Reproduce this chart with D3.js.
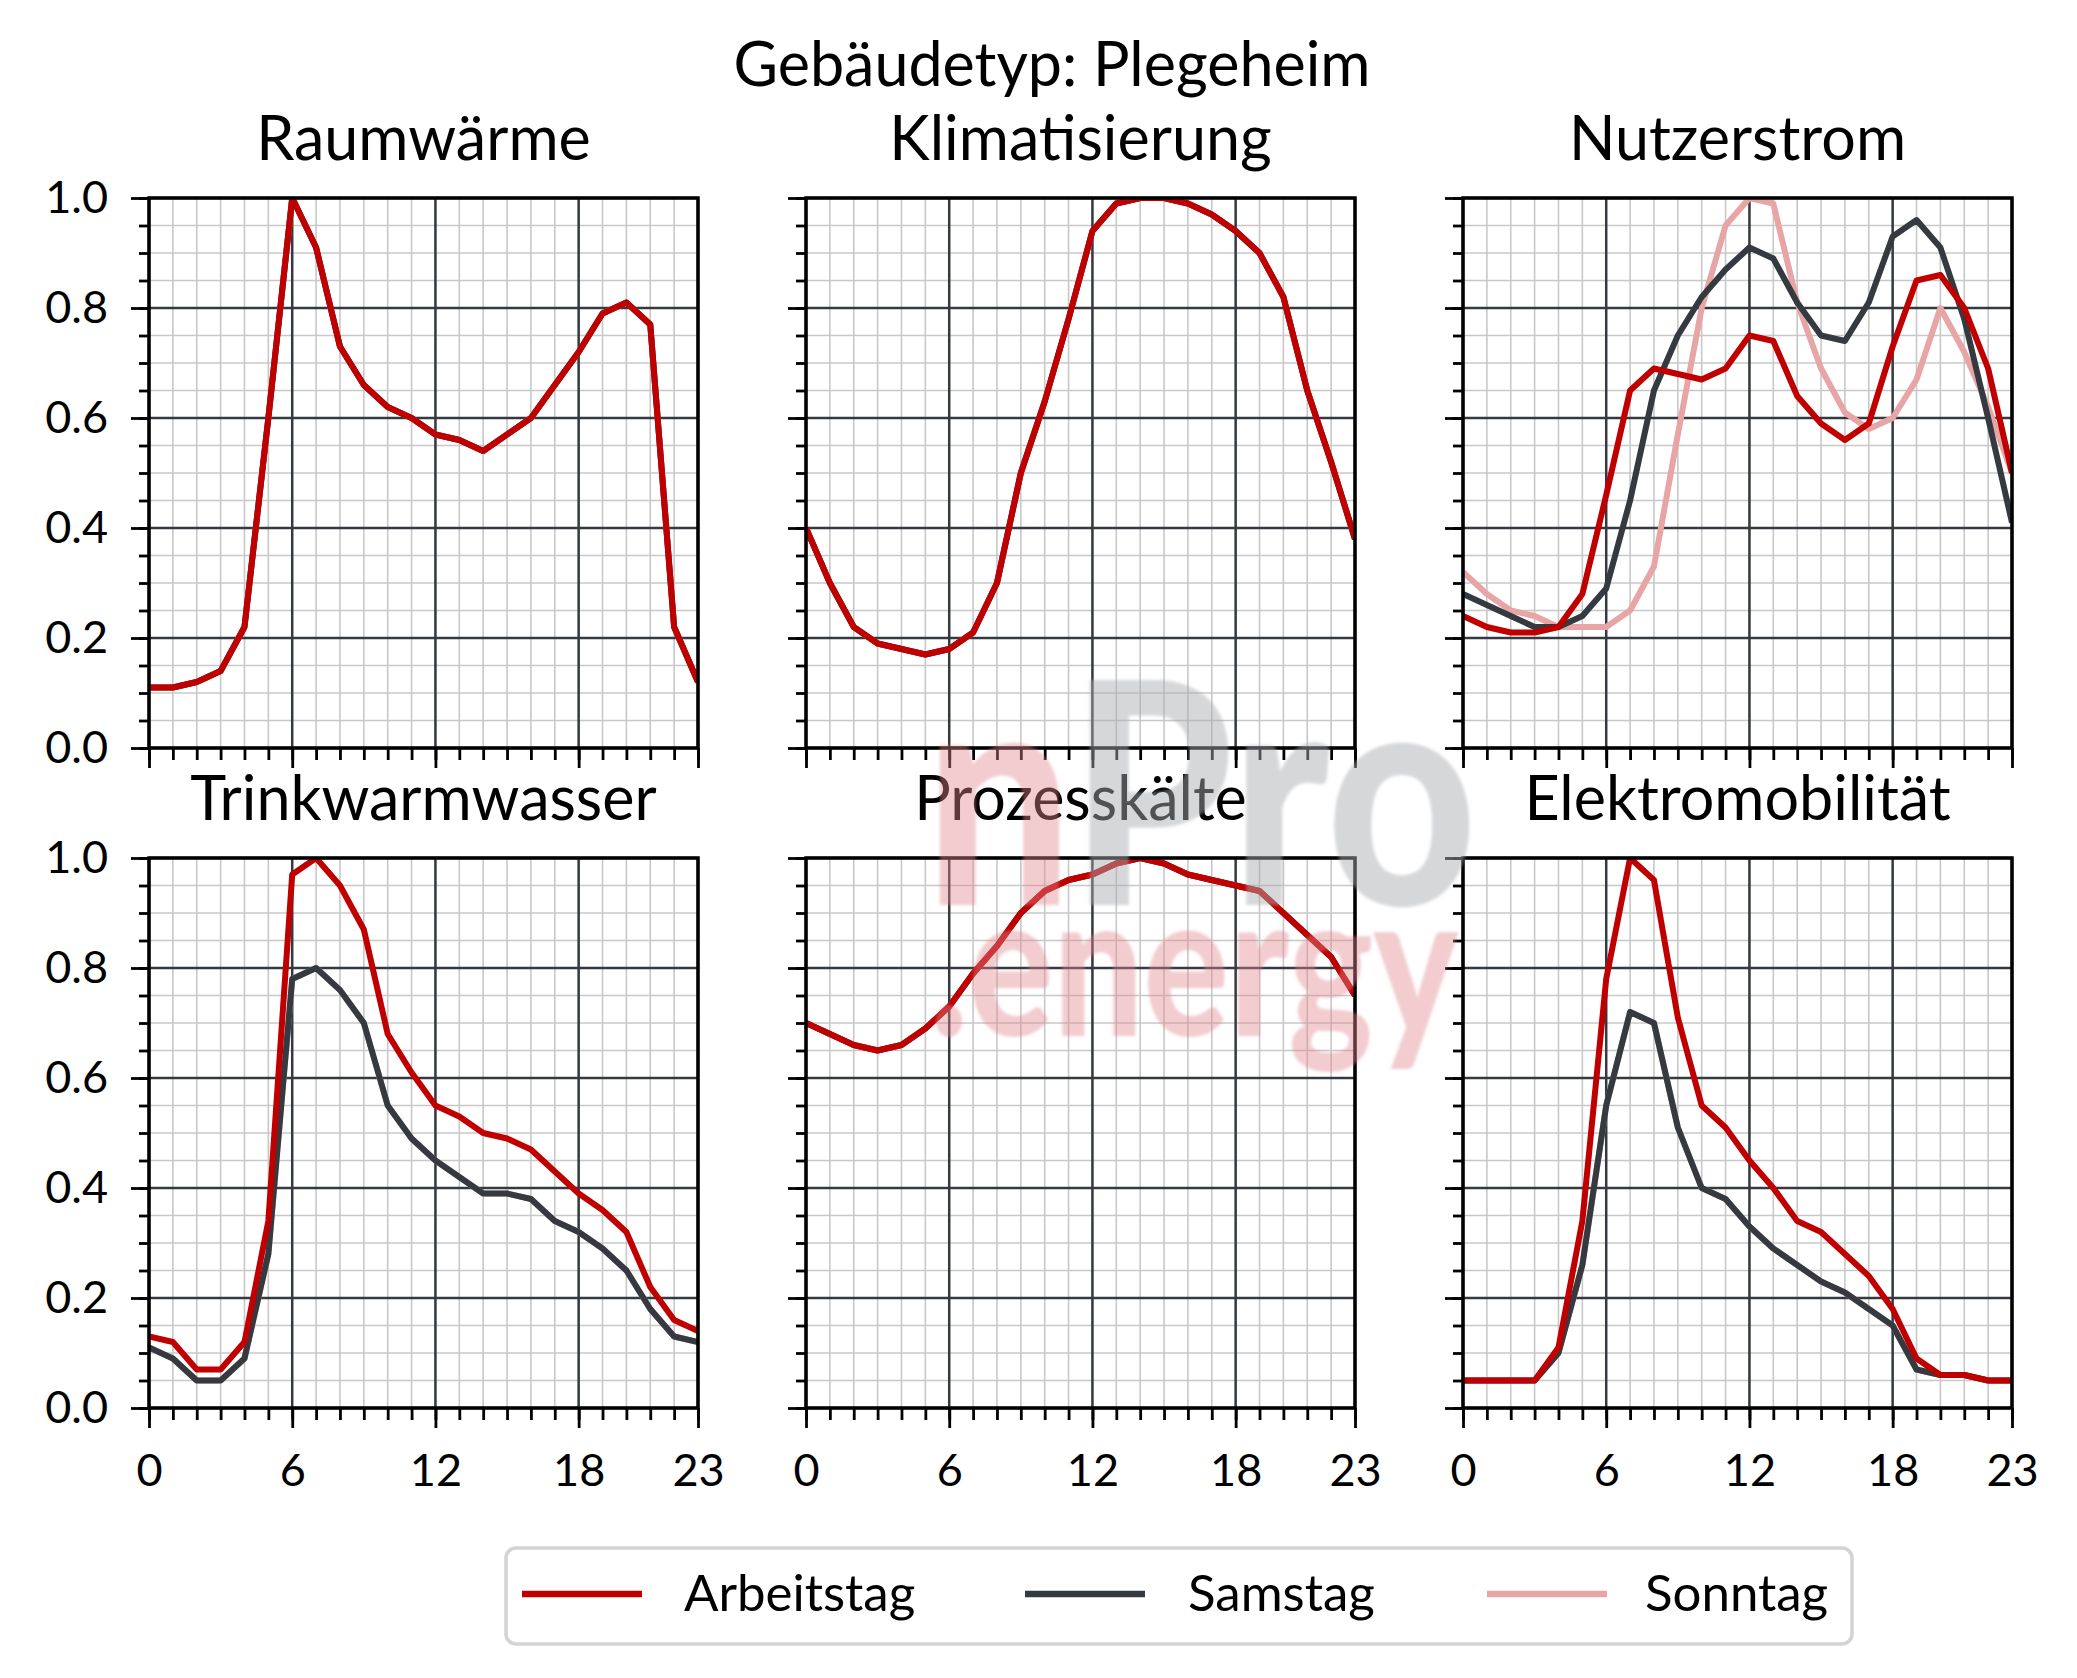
<!DOCTYPE html>
<html>
<head>
<meta charset="utf-8">
<script src="https://cdn.jsdelivr.net/npm/d3@7"></script>
<style>
  body { margin: 0; background: #fff; }
  svg { display: block; }
  text { font-family: Lato, "Open Sans", sans-serif; }
</style>
</head>
<body>
<svg id="chart" width="2077" height="1678"></svg>
<script>
// ======================
// DATA (hourly profiles, normalised to 1.0)
// ======================
const hours = d3.range(24);
const xMajor = [0, 6, 12, 18, 23];
const yMajor = [0, 0.2, 0.4, 0.6, 0.8, 1.0];
const yMinor = d3.range(0, 1.0001, 0.05);

const seriesNames = ["Arbeitstag", "Samstag", "Sonntag"];

const raumAT = [0.11,0.11,0.12,0.14,0.22,0.60,1.00,0.91,0.73,0.66,0.62,0.60,0.57,0.56,0.54,0.57,0.60,0.66,0.72,0.79,0.81,0.77,0.22,0.12];
const klimaAT = [0.40,0.30,0.22,0.19,0.18,0.17,0.18,0.21,0.30,0.50,0.63,0.78,0.94,0.99,1.00,1.00,0.99,0.97,0.94,0.90,0.82,0.65,0.52,0.38];
const nutzAT = [0.24,0.22,0.21,0.21,0.22,0.28,0.46,0.65,0.69,0.68,0.67,0.69,0.75,0.74,0.64,0.59,0.56,0.59,0.73,0.85,0.86,0.80,0.69,0.50];
const nutzSa = [0.28,0.26,0.24,0.22,0.22,0.24,0.29,0.45,0.65,0.75,0.82,0.87,0.91,0.89,0.81,0.75,0.74,0.81,0.93,0.96,0.91,0.78,0.60,0.41];
const nutzSo = [0.32,0.28,0.25,0.24,0.22,0.22,0.22,0.25,0.33,0.57,0.80,0.95,1.00,0.99,0.81,0.69,0.61,0.58,0.60,0.67,0.80,0.72,0.62,0.50];
const twwAT = [0.13,0.12,0.07,0.07,0.12,0.34,0.97,1.00,0.95,0.87,0.68,0.61,0.55,0.53,0.50,0.49,0.47,0.43,0.39,0.36,0.32,0.22,0.16,0.14];
const twwSa = [0.11,0.09,0.05,0.05,0.09,0.28,0.78,0.80,0.76,0.70,0.55,0.49,0.45,0.42,0.39,0.39,0.38,0.34,0.32,0.29,0.25,0.18,0.13,0.12];
const prozAT = [0.70,0.68,0.66,0.65,0.66,0.69,0.73,0.79,0.84,0.90,0.94,0.96,0.97,0.99,1.00,0.99,0.97,0.96,0.95,0.94,0.90,0.86,0.82,0.75];
const emobAT = [0.05,0.05,0.05,0.05,0.11,0.34,0.78,1.00,0.96,0.71,0.55,0.51,0.45,0.40,0.34,0.32,0.28,0.24,0.18,0.09,0.06,0.06,0.05,0.05];
const emobSa = [0.05,0.05,0.05,0.05,0.10,0.26,0.55,0.72,0.70,0.51,0.40,0.38,0.33,0.29,0.26,0.23,0.21,0.18,0.15,0.07,0.06,0.06,0.05,0.05];

// where the weekend profile equals the workday profile it is hidden below it
const panels = [
  { title: "Raumwärme",        AT: raumAT,  Sa: raumAT,  So: raumAT },
  { title: "Klimatisierung",   AT: klimaAT, Sa: klimaAT, So: klimaAT },
  { title: "Nutzerstrom",      AT: nutzAT,  Sa: nutzSa,  So: nutzSo },
  { title: "Trinkwarmwasser",  AT: twwAT,   Sa: twwSa,   So: twwSa },
  { title: "Prozesskälte",     AT: prozAT,  Sa: prozAT,  So: prozAT },
  { title: "Elektromobilität", AT: emobAT,  Sa: emobSa,  So: emobSa }
];

// ======================
// STYLE / LAYOUT
// ======================
const colors = { AT: "#c00000", Sa: "#343a40", So: "#e8a5a5" };
const colLeft = [149, 806, 1463];
const rowTop = [198, 858];
const pw = 549, ph = 550;

const svg = d3.select("#chart");

svg.append("text")
  .attr("x", 1052).attr("y", 86)
  .attr("text-anchor", "middle")
  .style("font-size", "61px")
  .style("fill", "#000")
  .text("Gebäudetyp: Plegeheim");

const x = d3.scaleLinear().domain([0, 23]).range([0, pw]);
const y = d3.scaleLinear().domain([0, 1]).range([ph, 0]);

const line = d3.line().x((d, i) => x(hours[i])).y(d => y(d));

panels.forEach((p, i) => {
  const col = i % 3, row = Math.floor(i / 3);
  const g = svg.append("g")
    .attr("transform", `translate(${colLeft[col]},${rowTop[row]})`);

  // minor grid
  g.append("g").selectAll("line").data(hours).join("line")
    .attr("x1", d => x(d)).attr("x2", d => x(d))
    .attr("y1", 0).attr("y2", ph)
    .attr("stroke", "#c8c8c8").attr("stroke-width", 1.6);
  g.append("g").selectAll("line").data(yMinor).join("line")
    .attr("x1", 0).attr("x2", pw)
    .attr("y1", d => y(d)).attr("y2", d => y(d))
    .attr("stroke", "#c8c8c8").attr("stroke-width", 1.6);

  // major grid
  g.append("g").selectAll("line").data(xMajor).join("line")
    .attr("x1", d => x(d)).attr("x2", d => x(d))
    .attr("y1", 0).attr("y2", ph)
    .attr("stroke", "#343a40").attr("stroke-width", 2.5);
  g.append("g").selectAll("line").data(yMajor).join("line")
    .attr("x1", 0).attr("x2", pw)
    .attr("y1", d => y(d)).attr("y2", d => y(d))
    .attr("stroke", "#343a40").attr("stroke-width", 2.5);

  // lines, clipped to the axes box
  const clipId = `clip${i}`;
  g.append("clipPath").attr("id", clipId)
    .append("rect").attr("width", pw).attr("height", ph);
  const lines = g.append("g").attr("clip-path", `url(#${clipId})`);
  ["So", "Sa", "AT"].forEach(k => {
    lines.append("path")
      .datum(p[k])
      .attr("d", line)
      .attr("fill", "none")
      .attr("stroke", colors[k])
      .attr("stroke-width", 6)
      .attr("stroke-linejoin", "round");
  });

  // axes
  g.append("g")
    .call(d3.axisLeft(y).tickValues(yMajor).tickSizeInner(18).tickSizeOuter(0)
      .tickPadding(23).tickFormat(col === 0 ? d3.format(".1f") : () => ""));
  g.append("g")
    .call(d3.axisLeft(y).tickValues(yMinor).tickSizeInner(10).tickSizeOuter(0).tickFormat(""));
  g.append("g").attr("transform", `translate(0,${ph})`)
    .call(d3.axisBottom(x).tickValues(xMajor).tickSizeInner(20).tickSizeOuter(0)
      .tickPadding(26).tickFormat(row === 1 ? d3.format("d") : () => ""));
  g.append("g").attr("transform", `translate(0,${ph})`)
    .call(d3.axisBottom(x).tickValues(hours).tickSizeInner(12).tickSizeOuter(0).tickFormat(""));

  g.selectAll(".domain").remove();
  g.selectAll(".tick line").attr("stroke", "#000").attr("stroke-width", 2.8);
  g.selectAll(".tick text")
    .style("font-size", "45px")
    .style("font-family", "Lato, 'Open Sans', sans-serif")
    .style("fill", "#000");

  // spines
  g.append("rect")
    .attr("width", pw).attr("height", ph)
    .attr("fill", "none").attr("stroke", "#000").attr("stroke-width", 3.5);

  // subplot title
  g.append("text")
    .attr("x", pw / 2).attr("y", -38)
    .attr("text-anchor", "middle")
    .style("font-size", "61px")
    .style("fill", "#000")
    .text(p.title);
});

// ======================
// WATERMARK
// ======================
const defs = svg.append("defs");
defs.append("filter").attr("id", "soft")
  .append("feGaussianBlur").attr("stdDeviation", 1.5);

const wm = svg.append("g").attr("pointer-events", "none").attr("filter", "url(#soft)");
const wmTop = wm.append("text")
  .attr("x", 925).attr("y", 905)
  .attr("textLength", 552).attr("lengthAdjust", "spacingAndGlyphs")
  .style("font-size", "310px").style("font-weight", 900);
wmTop.append("tspan").text("n").style("fill", "#e0868c").style("fill-opacity", 0.42);
wmTop.append("tspan").text("Pro").style("fill", "#a9acb0").style("fill-opacity", 0.48);
wm.append("text")
  .attr("x", 930).attr("y", 1036)
  .attr("textLength", 528).attr("lengthAdjust", "spacingAndGlyphs")
  .style("font-size", "200px").style("font-weight", 900)
  .style("fill", "#e0868c").style("fill-opacity", 0.42)
  .text(".energy");

// ======================
// LEGEND
// ======================
const legend = svg.append("g");
legend.append("rect")
  .attr("x", 506).attr("y", 1548).attr("width", 1346).attr("height", 96)
  .attr("rx", 10)
  .attr("fill", "#fff").attr("stroke", "#d3d3d3").attr("stroke-width", 3.5);

const legendItems = [
  { name: seriesNames[0], key: "AT", x0: 522, tx: 684 },
  { name: seriesNames[1], key: "Sa", x0: 1025, tx: 1188 },
  { name: seriesNames[2], key: "So", x0: 1487, tx: 1645 }
];
legendItems.forEach(d => {
  legend.append("line")
    .attr("x1", d.x0).attr("x2", d.x0 + 120)
    .attr("y1", 1594).attr("y2", 1594)
    .attr("stroke", colors[d.key]).attr("stroke-width", 6.5);
  legend.append("text")
    .attr("x", d.tx).attr("y", 1611)
    .style("font-size", "51px")
    .style("fill", "#000")
    .text(d.name);
});
</script>
</body>
</html>
